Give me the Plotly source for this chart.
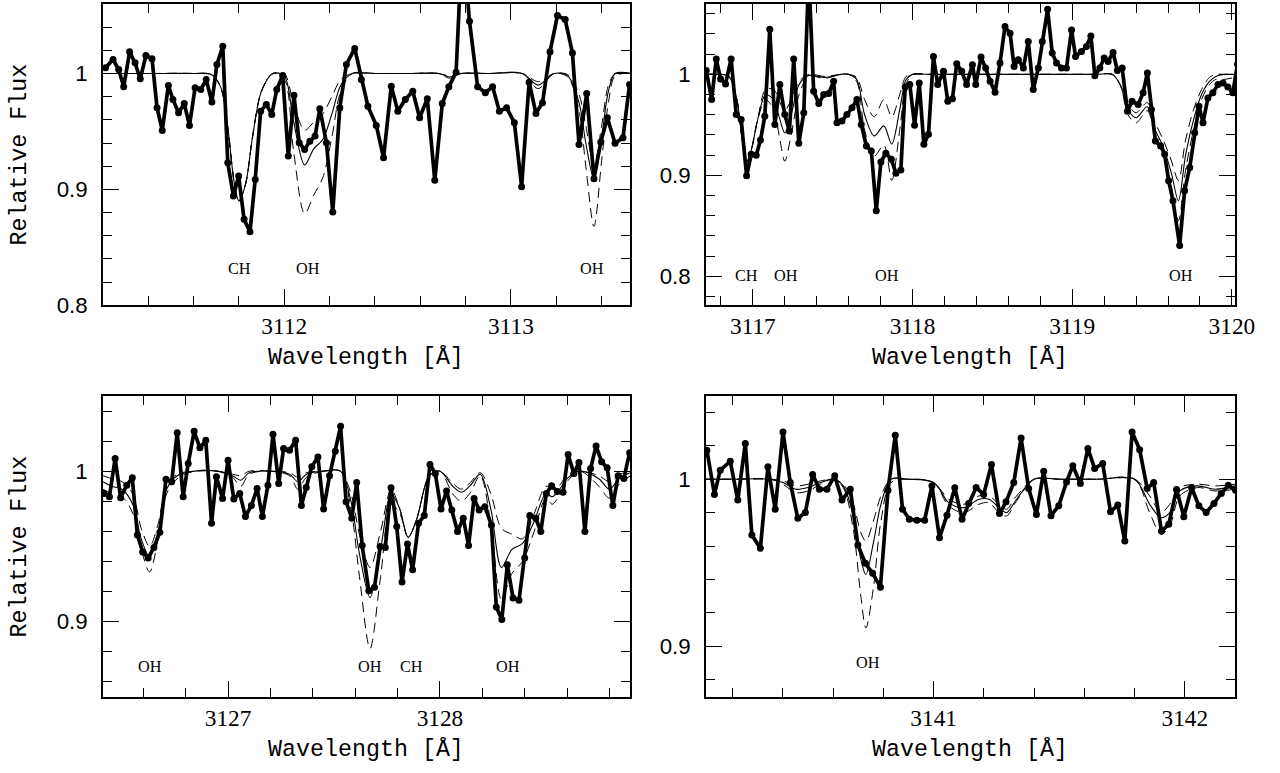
import plotly.graph_objects as go

# ---------------- Panel 1 (3111.2 - 3113.5) ----------------
obs1_wl = [3111.212, 3111.245, 3111.270, 3111.292, 3111.318, 3111.342, 3111.365, 3111.390, 3111.417, 3111.439,
           3111.462, 3111.489, 3111.509, 3111.534, 3111.559, 3111.582, 3111.607, 3111.632, 3111.656, 3111.681,
           3111.703, 3111.729, 3111.751, 3111.776, 3111.799, 3111.823, 3111.849, 3111.872, 3111.896, 3111.921,
           3111.945, 3111.967, 3111.993, 3112.018, 3112.043, 3112.066, 3112.090, 3112.113, 3112.136, 3112.157,
           3112.186, 3112.214, 3112.245, 3112.274, 3112.311, 3112.340, 3112.369, 3112.406, 3112.438, 3112.472,
           3112.501, 3112.534, 3112.567, 3112.597, 3112.631, 3112.664, 3112.697, 3112.726, 3112.758, 3112.786,
           3112.817, 3112.853, 3112.887, 3112.919, 3112.949, 3112.981, 3113.015, 3113.047, 3113.080, 3113.110,
           3113.139, 3113.172, 3113.205, 3113.239, 3113.271, 3113.300, 3113.334, 3113.366, 3113.396, 3113.425,
           3113.459, 3113.494, 3113.523]
obs1_flux = [1.0049, 1.0121, 1.0034, 0.9885, 1.0187, 1.0092, 0.9954, 1.0155, 1.0127, 0.9704,
             0.9509, 0.9897, 0.9776, 0.9661, 0.9741, 0.9552, 0.9877, 0.9862, 0.9948, 0.9753,
             1.0078, 1.0235, 0.9230, 0.8942, 0.9115, 0.8741, 0.8635, 0.9086, 0.9675, 0.9733,
             0.9647, 0.9862, 0.9983, 0.9287, 0.9813, 0.9403, 0.9345, 0.9416, 0.9460, 0.9696,
             0.9403, 0.8804, 0.9704, 1.0078, 1.0216, 0.9948, 0.9718, 0.9552, 0.9273, 0.9891,
             0.9675, 0.9776, 0.9847, 0.9618, 0.9782, 0.9078, 0.9741, 0.9885, 1.0011, 1.1200,
             1.0451, 0.9885, 0.9834, 0.9885, 0.9675, 0.9704, 0.9575, 0.9023, 0.9925, 0.9655,
             0.9747, 1.0187, 1.0500, 1.0466, 1.0178, 0.9388, 0.9828, 0.9092, 0.9408, 0.9618,
             0.9397, 0.9446, 0.9905]
mod1_wl = [3111.20, 3111.40, 3111.60, 3111.68, 3111.72, 3111.75, 3111.78, 3111.80, 3111.83, 3111.86,
           3111.90, 3111.95, 3112.00, 3112.04, 3112.09, 3112.13, 3112.17, 3112.21, 3112.25, 3112.30,
           3112.40, 3112.55, 3112.68, 3112.73, 3112.78, 3112.90, 3113.05, 3113.12, 3113.19, 3113.25,
           3113.30, 3113.33, 3113.366, 3113.40, 3113.43, 3113.46, 3113.53]
mod1_best = [1.0, 1.0, 1.0, 0.999, 0.988, 0.955, 0.905, 0.890, 0.905, 0.945,
             0.985, 1.0, 0.998, 0.960, 0.921, 0.935, 0.943, 0.965, 0.990, 1.0,
             1.0, 1.0, 1.0, 0.997, 1.0, 1.0, 1.0, 0.990, 1.0, 0.998,
             0.975, 0.940, 0.909, 0.945, 0.985, 1.0, 1.0]
mod1_low = [1.0, 1.0, 1.0, 0.999, 0.988, 0.955, 0.905, 0.890, 0.905, 0.945,
            0.985, 1.0, 1.0, 0.975, 0.951, 0.958, 0.965, 0.980, 0.995, 1.0,
            1.0, 1.0, 1.0, 0.998, 1.0, 1.0, 1.0, 0.993, 1.0, 0.999,
            0.982, 0.955, 0.920, 0.955, 0.990, 1.0, 1.0]
mod1_high = [1.0, 1.0, 1.0, 0.999, 0.988, 0.955, 0.905, 0.890, 0.905, 0.945,
             0.985, 1.0, 0.995, 0.935, 0.879, 0.895, 0.910, 0.945, 0.985, 1.0,
             1.0, 1.0, 1.0, 0.996, 1.0, 1.0, 1.0, 0.987, 1.0, 0.997,
             0.968, 0.920, 0.868, 0.925, 0.975, 0.998, 1.0]
lab1_text = ["CH", "OH", "OH"]
lab1_wl = [3111.803, 3112.105, 3113.357]
lab1_y = 0.831

# ---------------- Panel 2 (3116.7 - 3120.0) ----------------
obs2_wl = [3116.708, 3116.742, 3116.771, 3116.798, 3116.829, 3116.864, 3116.896, 3116.927, 3116.961, 3116.990,
           3117.021, 3117.048, 3117.075, 3117.106, 3117.138, 3117.169, 3117.200, 3117.229, 3117.256, 3117.288,
           3117.319, 3117.350, 3117.381, 3117.413, 3117.444, 3117.475, 3117.506, 3117.527, 3117.558, 3117.589,
           3117.621, 3117.652, 3117.679, 3117.711, 3117.742, 3117.773, 3117.802, 3117.833, 3117.867, 3117.896,
           3117.927, 3117.954, 3117.983, 3118.013, 3118.042, 3118.071, 3118.100, 3118.131, 3118.158, 3118.194,
           3118.221, 3118.250, 3118.277, 3118.308, 3118.339,
           3118.375, 3118.396, 3118.429, 3118.458, 3118.486, 3118.517, 3118.548, 3118.579, 3118.611, 3118.636,
           3118.663, 3118.694, 3118.725, 3118.756, 3118.788, 3118.813, 3118.846, 3118.875, 3118.902, 3118.933,
           3118.964, 3118.996, 3119.021, 3119.058, 3119.089, 3119.117, 3119.142, 3119.173, 3119.200, 3119.225,
           3119.256, 3119.283, 3119.313, 3119.346, 3119.375, 3119.413, 3119.444, 3119.471, 3119.496, 3119.521,
           3119.554, 3119.579, 3119.604, 3119.631, 3119.673, 3119.704, 3119.736, 3119.767, 3119.794, 3119.819,
           3119.850, 3119.881, 3119.913, 3119.944, 3119.975, 3120.006, 3120.035]
obs2_flux = [1.0039, 0.9751, 1.0152, 0.9955, 0.9905, 1.0152, 0.9603, 0.9554, 0.8995, 0.9209,
             0.9199, 0.9350, 0.9586, 1.0447, 0.9504, 0.9899, 0.9603, 0.9438, 1.0152, 0.9317,
             0.9620, 1.1000, 0.9833, 0.9711, 0.9800, 0.9810, 0.9931, 0.9521, 0.9537, 0.9603,
             0.9669, 0.9751, 0.9504, 0.9291, 0.9241, 0.8650, 0.9133, 0.9219, 0.9160, 0.9022,
             0.9054, 0.9876, 0.9899, 0.9495, 0.9915, 0.9307, 0.9406, 1.0177, 0.9899, 1.0030,
             0.9734, 0.9758, 1.0105, 1.0030, 0.9899,
             1.0096, 0.9899, 1.0171, 1.0063, 0.9931, 0.9823, 1.0112, 1.0473, 1.0408, 1.0079,
             1.0145, 1.0063, 1.0325, 0.9849, 1.0063, 1.0325, 1.0644, 1.0211, 1.0112, 1.0063,
             1.0063, 1.0440, 1.0177, 1.0227, 1.0276, 1.0381, 0.9987, 1.0063, 1.0162, 1.0128,
             1.0217, 1.0039, 1.0063, 0.9635, 0.9734, 0.9701, 0.9817, 1.0014, 0.9652, 0.9340,
             0.9291, 0.9209, 0.8946, 0.8749, 0.8305, 0.8847, 0.9078, 0.9423, 0.9685, 0.9521,
             0.9767, 0.9817, 0.9899, 0.9915, 0.9876, 0.9817, 1.0100]
mod2_wl = [3116.70, 3116.80, 3116.85, 3116.90, 3116.93, 3116.96, 3116.99, 3117.03, 3117.08, 3117.13,
           3117.17, 3117.20, 3117.24, 3117.29, 3117.35, 3117.45, 3117.55, 3117.60, 3117.65, 3117.70,
           3117.76, 3117.82, 3117.87, 3117.92, 3117.96, 3118.00, 3118.10, 3118.40, 3118.70, 3119.00,
           3119.15, 3119.25, 3119.30, 3119.35, 3119.40, 3119.47, 3119.52, 3119.57, 3119.62, 3119.665,
           3119.71, 3119.76, 3119.81, 3119.86, 3119.90, 3119.95, 3120.02]
mod2_best = [1.0, 1.0, 0.998, 0.975, 0.940, 0.913, 0.925, 0.955, 0.980, 0.975,
             0.955, 0.942, 0.960, 0.990, 0.999, 0.997, 1.0, 1.0, 0.995, 0.960,
             0.939, 0.949, 0.931, 0.965, 0.995, 1.0, 1.0, 1.0, 1.0, 1.0,
             1.0, 1.0, 0.990, 0.965, 0.957, 0.968, 0.945, 0.928, 0.903, 0.875,
             0.920, 0.955, 0.980, 0.993, 0.998, 1.0, 1.0]
mod2_low = [1.0, 1.0, 0.998, 0.975, 0.940, 0.913, 0.925, 0.955, 0.985, 0.985,
            0.972, 0.964, 0.975, 0.993, 1.0, 0.998, 1.0, 1.0, 0.997, 0.975,
            0.958, 0.975, 0.958, 0.980, 0.998, 1.0, 1.0, 1.0, 1.0, 1.0,
            1.0, 1.0, 0.990, 0.970, 0.962, 0.972, 0.952, 0.935, 0.915, 0.895,
            0.935, 0.965, 0.985, 0.997, 1.0, 1.0, 1.0]
mod2_high = [1.0, 1.0, 0.998, 0.975, 0.940, 0.913, 0.925, 0.955, 0.975, 0.965,
             0.935, 0.914, 0.940, 0.980, 0.998, 0.996, 1.0, 1.0, 0.993, 0.945,
             0.919, 0.930, 0.895, 0.945, 0.990, 1.0, 1.0, 1.0, 1.0, 1.0,
             1.0, 1.0, 0.990, 0.960, 0.952, 0.964, 0.938, 0.920, 0.890, 0.855,
             0.905, 0.945, 0.975, 0.990, 0.995, 0.995, 0.997]
lab2_text = ["CH", "OH", "OH", "OH"]
lab2_wl = [3116.96, 3117.21, 3117.84, 3119.68]
lab2_y = 0.8007

# ---------------- Panel 3 (3126.4 - 3128.9) ----------------
obs3_wl = [3126.415, 3126.440, 3126.467, 3126.493, 3126.522, 3126.548, 3126.572, 3126.597, 3126.623, 3126.650,
           3126.678, 3126.707, 3126.734, 3126.760, 3126.788, 3126.812, 3126.840, 3126.867, 3126.895, 3126.922,
           3126.945, 3126.974, 3127.000, 3127.027, 3127.055, 3127.082, 3127.110, 3127.137, 3127.162, 3127.188,
           3127.212, 3127.239, 3127.262, 3127.290, 3127.319, 3127.346, 3127.369, 3127.395, 3127.424, 3127.451,
           3127.479, 3127.506, 3127.531, 3127.557, 3127.584, 3127.607, 3127.633,
           3127.664, 3127.691, 3127.718, 3127.742, 3127.769, 3127.796, 3127.821, 3127.847, 3127.871, 3127.899,
           3127.926, 3127.953, 3127.978, 3128.005, 3128.031, 3128.056, 3128.083, 3128.110, 3128.135, 3128.161,
           3128.185, 3128.212, 3128.243, 3128.266, 3128.292, 3128.318, 3128.345, 3128.373, 3128.400, 3128.424,
           3128.452, 3128.476, 3128.502, 3128.527, 3128.554, 3128.581, 3128.605, 3128.632, 3128.656, 3128.684,
           3128.711, 3128.737, 3128.763, 3128.789, 3128.816, 3128.841, 3128.868, 3128.895]
obs3_flux = [0.9852, 0.9830, 1.0084, 0.9824, 0.9907, 0.9956, 0.9576, 0.9462, 0.9422, 0.9493,
             0.9594, 0.9947, 0.9930, 1.0256, 0.9830, 1.0051, 1.0265, 1.0155, 1.0205, 0.9654,
             0.9963, 0.9819, 1.0073, 0.9815, 0.9852, 0.9698, 0.9771, 0.9885, 0.9698, 0.9907,
             1.0245, 0.9918, 1.0150, 1.0139, 1.0205, 0.9771, 0.9892, 1.0029, 1.0095, 0.9748,
             0.9970, 1.0132, 1.0298, 0.9797, 0.9687, 0.9925, 0.9506,
             0.9205, 0.9228, 0.9499, 0.9493, 0.9890, 0.9632, 0.9263, 0.9515, 0.9344, 0.9654,
             0.9705, 1.0044, 0.9985, 0.9748, 0.9868, 0.9742, 0.9599, 0.9687, 0.9506, 0.9819,
             0.9742, 0.9764, 0.9642, 0.9097, 0.9013, 0.9377, 0.9157, 0.9142, 0.9422, 0.9705,
             0.9687, 0.9599, 0.9852, 0.9903, 0.9864, 0.9859, 1.0111, 0.9985, 1.0058, 0.9599,
             1.0018, 1.0168, 1.0062, 1.0022, 0.9771, 0.9970, 0.9952, 1.0122]
mod3_wl = [3126.41, 3126.45, 3126.50, 3126.55, 3126.59, 3126.63, 3126.67, 3126.71, 3126.76, 3126.84,
           3126.95, 3127.02, 3127.06, 3127.10, 3127.20, 3127.29, 3127.33, 3127.37, 3127.45, 3127.53,
           3127.58, 3127.62, 3127.67, 3127.72, 3127.77, 3127.81, 3127.85, 3127.89, 3127.95, 3128.00,
           3128.06, 3128.10, 3128.14, 3128.19, 3128.24, 3128.29, 3128.34, 3128.39, 3128.44, 3128.50,
           3128.53, 3128.56, 3128.60, 3128.66, 3128.75, 3128.80, 3128.85, 3128.90]
mod3_best = [0.993, 0.990, 0.988, 0.978, 0.955, 0.943, 0.960, 0.988, 0.997, 1.0,
             1.0, 0.997, 0.994, 0.999, 1.0, 0.998, 0.993, 0.998, 1.0, 1.0,
             0.980, 0.945, 0.916, 0.948, 0.985, 0.975, 0.956, 0.968, 0.997, 1.0,
             0.990, 0.986, 0.990, 0.998, 0.975, 0.936, 0.948, 0.952, 0.965, 0.985,
             0.983, 0.987, 0.995, 1.0, 0.995, 0.988, 0.996, 0.999]
mod3_low = [0.997, 0.995, 0.993, 0.985, 0.962, 0.950, 0.965, 0.990, 0.998, 1.0,
            1.0, 0.998, 0.997, 1.0, 1.0, 0.999, 0.996, 0.999, 1.0, 1.0,
            0.985, 0.958, 0.936, 0.960, 0.988, 0.975, 0.956, 0.968, 0.997, 1.0,
            0.992, 0.988, 0.992, 0.999, 0.985, 0.962, 0.958, 0.955, 0.970, 0.990,
            0.988, 0.990, 0.997, 1.0, 0.997, 0.993, 0.998, 1.0]
mod3_high = [0.988, 0.985, 0.983, 0.972, 0.948, 0.933, 0.955, 0.985, 0.995, 1.0,
             1.0, 0.996, 0.990, 0.998, 1.0, 0.997, 0.988, 0.996, 1.0, 1.0,
             0.975, 0.930, 0.882, 0.930, 0.978, 0.972, 0.956, 0.968, 0.997, 1.0,
             0.985, 0.980, 0.985, 0.997, 0.965, 0.915, 0.932, 0.940, 0.958, 0.982,
             0.978, 0.983, 0.993, 1.0, 0.990, 0.982, 0.992, 0.997]
lab3_text = ["OH", "OH", "CH", "OH"]
lab3_wl = [3126.632, 3127.672, 3127.865, 3128.322]
lab3_y = 0.870

# ---------------- Panel 4 (3140.1 - 3142.2) ----------------
obs4_wl = [3140.097, 3140.127, 3140.150, 3140.190, 3140.220, 3140.250, 3140.276, 3140.310, 3140.340, 3140.369,
           3140.400, 3140.429, 3140.459, 3140.489, 3140.518, 3140.545, 3140.575, 3140.606, 3140.635, 3140.668,
           3140.698, 3140.728, 3140.757, 3140.788, 3140.818, 3140.847, 3140.876, 3140.903, 3140.933, 3140.964,
           3140.993, 3141.023, 3141.053, 3141.084, 3141.113, 3141.139, 3141.169,
           3141.199, 3141.230, 3141.262, 3141.288, 3141.319, 3141.348, 3141.378, 3141.409, 3141.438, 3141.467,
           3141.498, 3141.529, 3141.554, 3141.584, 3141.614, 3141.641, 3141.673, 3141.704, 3141.733, 3141.761,
           3141.790, 3141.820, 3141.850, 3141.876, 3141.907, 3141.936, 3141.967, 3141.996, 3142.027, 3142.056,
           3142.085, 3142.116, 3142.145, 3142.173, 3142.202]
obs4_flux = [1.0173, 0.9909, 1.0054, 1.0107, 0.9875, 1.0213, 0.9666, 0.9587, 1.0074, 0.9821,
             1.0283, 0.9980, 0.9766, 0.9801, 1.0028, 0.9940, 0.9940, 1.0020, 0.9875, 0.9940,
             0.9606, 0.9497, 0.9437, 0.9354, 0.9934, 1.0263, 0.9821, 0.9760, 0.9755, 0.9755,
             0.9961, 0.9650, 0.9785, 0.9949, 0.9761, 0.9855, 0.9950,
             0.9909, 1.0088, 0.9795, 0.9865, 0.9980, 1.0247, 0.9945, 0.9789, 1.0048, 0.9782,
             0.9841, 0.9984, 1.0080, 0.9974, 1.0183, 1.0064, 1.0094, 0.9805, 0.9845, 0.9630,
             1.0283, 1.0177, 0.9945, 0.9980, 0.9690, 0.9730, 0.9939, 0.9776, 0.9949, 0.9841,
             0.9801, 0.9855, 0.9915, 0.9964, 0.9934]
mod4_wl = [3140.09, 3140.20, 3140.35, 3140.40, 3140.45, 3140.50, 3140.55, 3140.60, 3140.64, 3140.68,
           3140.71, 3140.73, 3140.76, 3140.79, 3140.83, 3140.90, 3141.00, 3141.06, 3141.12, 3141.18,
           3141.22, 3141.26, 3141.29, 3141.33, 3141.40, 3141.50, 3141.65, 3141.80, 3141.86, 3141.905,
           3141.94, 3141.98, 3142.05, 3142.12, 3142.20]
mod4_best = [1.0, 1.0, 1.0, 0.998, 0.994, 0.995, 0.998, 1.0, 0.996, 0.978,
             0.952, 0.943, 0.962, 0.985, 1.0, 1.0, 0.998, 0.986, 0.983, 0.988,
             0.988, 0.983, 0.980, 0.988, 1.0, 1.0, 1.0, 1.0, 0.985, 0.977,
             0.980, 0.993, 0.996, 0.994, 0.996]
mod4_low = [1.0, 1.0, 1.0, 0.999, 0.996, 0.997, 0.999, 1.0, 0.997, 0.985,
            0.968, 0.963, 0.975, 0.990, 1.0, 1.0, 0.998, 0.988, 0.985, 0.990,
            0.990, 0.985, 0.982, 0.990, 1.0, 1.0, 1.0, 1.0, 0.990, 0.980,
            0.985, 0.995, 0.997, 0.996, 0.997]
mod4_high = [1.0, 1.0, 1.0, 0.997, 0.992, 0.993, 0.997, 1.0, 0.995, 0.970,
             0.930, 0.911, 0.935, 0.975, 0.998, 1.0, 0.998, 0.984, 0.980, 0.985,
             0.986, 0.980, 0.978, 0.987, 1.0, 1.0, 1.0, 1.0, 0.980, 0.967,
             0.972, 0.990, 0.995, 0.993, 0.994]
lab4_text = ["OH"]
lab4_wl = [3140.737]
lab4_y = 0.890

# ---------------- axes settings ----------------
x_ranges = [[3111.2, 3113.525], [3116.706, 3120.02], [3126.409, 3128.897], [3140.093, 3142.2]]
y_ranges = [[0.8, 1.06], [0.7714, 1.0697], [0.8497, 1.05], [0.8696, 1.0498]]
# layout is designed on a 1280x773 canvas; K enlarges everything slightly so the
# captured page lands on the reference pixel grid
RW, RH = 1280, 773
K = 1.014
W, H = round(RW * K), round(RH * K)
x_dom_px = [[103, 631], [707, 1237], [103, 631], [707, 1237]]
y_dom_px = [[4, 306], [4, 306], [397, 699], [397, 699]]

panels = [
    (obs1_wl, obs1_flux, mod1_wl, mod1_best, mod1_low, mod1_high, lab1_text, lab1_wl, lab1_y),
    (obs2_wl, obs2_flux, mod2_wl, mod2_best, mod2_low, mod2_high, lab2_text, lab2_wl, lab2_y),
    (obs3_wl, obs3_flux, mod3_wl, mod3_best, mod3_low, mod3_high, lab3_text, lab3_wl, lab3_y),
    (obs4_wl, obs4_flux, mod4_wl, mod4_best, mod4_low, mod4_high, lab4_text, lab4_wl, lab4_y),
]

fig = go.Figure()
annotations = []
layout = {}
tick_serif = dict(family="Liberation Serif", size=23 * K, color="black")
tick_sans = dict(family="Liberation Sans", size=22 * K, color="black")
title_font = dict(family="Liberation Mono", size=23 * K, color="black")

for i, (ow, of, mw, mb, ml, mh, lt, lw, ly) in enumerate(panels):
    n = i + 1
    xa = "x" if n == 1 else f"x{n}"
    ya = "y" if n == 1 else f"y{n}"
    dash = "10px,6px"
    fig.add_trace(go.Scatter(x=mw, y=ml, xaxis=xa, yaxis=ya, mode="lines",
                             line=dict(color="black", width=1, dash=dash, shape="spline", smoothing=0.9),
                             showlegend=False, hoverinfo="skip"))
    fig.add_trace(go.Scatter(x=mw, y=mh, xaxis=xa, yaxis=ya, mode="lines",
                             line=dict(color="black", width=1, dash=dash, shape="spline", smoothing=0.9),
                             showlegend=False, hoverinfo="skip"))
    fig.add_trace(go.Scatter(x=mw, y=mb, xaxis=xa, yaxis=ya, mode="lines",
                             line=dict(color="black", width=1.1, shape="spline", smoothing=0.9),
                             showlegend=False, hoverinfo="skip"))
    fig.add_trace(go.Scatter(x=ow, y=of, xaxis=xa, yaxis=ya, mode="lines+markers",
                             line=dict(color="black", width=3.7),
                             marker=dict(color="black", size=7),
                             showlegend=False))
    xd = [x_dom_px[i][0] / RW, x_dom_px[i][1] / RW]
    yd = [1 - y_dom_px[i][1] / RH, 1 - y_dom_px[i][0] / RH]
    tick0x = {1: 3112, 2: 3117, 3: 3127, 4: 3141}[n]
    layout["xaxis" if n == 1 else f"xaxis{n}"] = dict(
        domain=xd, range=x_ranges[i], anchor=ya,
        ticks="inside", ticklen=16 * K, tickwidth=1, tickcolor="black",
        tick0=tick0x, dtick=1, tickformat="d",
        minor=dict(ticks="inside", ticklen=9 * K, tickwidth=1, tickcolor="black", dtick=0.2, tick0=tick0x),
        showline=True, linewidth=1.5, linecolor="black", mirror="allticks",
        showgrid=False, zeroline=False, tickfont=tick_serif, ticklabelstandoff=-1)
    layout["yaxis" if n == 1 else f"yaxis{n}"] = dict(
        domain=yd, range=y_ranges[i], anchor=xa,
        ticks="inside", ticklen=16 * K, tickwidth=1, tickcolor="black",
        tick0=0, dtick=0.1,
        minor=dict(ticks="inside", ticklen=9 * K, tickwidth=1, tickcolor="black", dtick=0.02, tick0=0),
        showline=True, linewidth=1.5, linecolor="black", mirror="allticks",
        showgrid=False, zeroline=False, tickfont=tick_sans, ticklabelstandoff=9)
    for t, w in zip(lt, lw):
        annotations.append(dict(x=w, y=ly, xref=xa, yref=ya, text=t, showarrow=False,
                                font=dict(family="Liberation Serif", size=16 * K, color="black")))
    annotations.append(dict(x=(xd[0] + xd[1]) / 2, y=1 - (358 if n <= 2 else 751) / RH,
                            xref="paper", yref="paper", text="Wavelength [Å]", showarrow=False,
                            font=title_font, xanchor="center", yanchor="middle"))
    if n in (1, 3):
        annotations.append(dict(x=20 / RW, y=(yd[0] + yd[1]) / 2, xref="paper", yref="paper",
                                text="Relative Flux", showarrow=False, textangle=-90,
                                font=title_font, xanchor="center", yanchor="middle"))

fig.update_layout(width=W, height=H, margin=dict(l=0, r=0, t=0, b=0),
                  paper_bgcolor="white", plot_bgcolor="white",
                  annotations=annotations, showlegend=False, **layout)

fig.write_html("out.html", config={"displayModeBar": False},
               post_script="document.body.style.margin='0';")
